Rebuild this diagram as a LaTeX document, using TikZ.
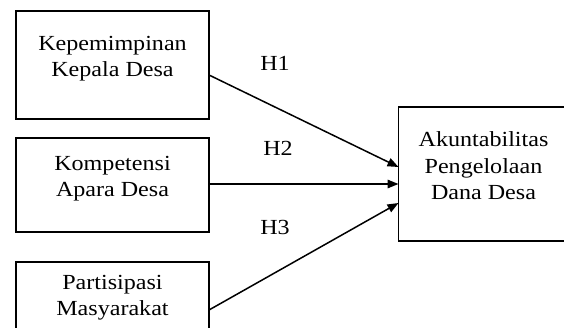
\documentclass[tikz,border=0pt]{standalone}
\usepackage{fontspec}
\setmainfont{Liberation Serif}[FakeStretch=1.12]
\usetikzlibrary{arrows.meta}
\begin{document}
\begin{tikzpicture}[x=1pt,y=1pt,
  box/.style={draw,line width=1.6pt,inner sep=0pt,outer sep=0pt},
  txt/.style={align=center,font=\fontsize{21.5}{26.5}\selectfont,inner sep=0pt},
  hlab/.style={font=\fontsize{21.5}{24}\selectfont,inner sep=0pt},
  arr/.style={line width=1.5pt,-{Triangle[length=11pt,width=8.5pt]}}]
\useasboundingbox (0,0) rectangle (564,327);
\clip (0,0) rectangle (564,327);
\node[box,minimum width=193pt,minimum height=108pt] (b1) at (112.5,262) {};
\node[txt] (t1) at ([yshift=6.5pt]b1.center) {Kepemimpinan\\Kepala Desa};
\node[box,minimum width=193pt,minimum height=94pt] (b2) at (112.5,142) {};
\node[txt] (t2) at ([yshift=6.5pt]b2.center) {Kompetensi\\Apara Desa};
\node[box,minimum width=193pt,minimum height=84pt] (b3) at (112.5,23) {};
\node[txt] (t3) at ([yshift=6.5pt]b3.center) {Partisipasi\\Masyarakat};
\node[box,minimum width=170pt,minimum height=134pt] (b4) at (483.5,153) {};
\node[txt] (t4) at ([yshift=8pt]b4.center) {Akuntabilitas\\Pengelolaan\\Dana Desa};
\draw[arr] ([yshift=-10pt]b1.east) -- ([yshift=7pt]b4.west);
\draw[arr] ([yshift=1pt]b2.east) -- ([yshift=-10pt]b4.west);
\draw[arr] ([yshift=-6pt]b3.east) -- ([yshift=-29pt]b4.west);
\node[hlab] (h1) at (275,264) {H1};
\node[hlab] (h2) at (278,179) {H2};
\node[hlab] (h3) at (275,100) {H3};
\end{tikzpicture}
\end{document}
